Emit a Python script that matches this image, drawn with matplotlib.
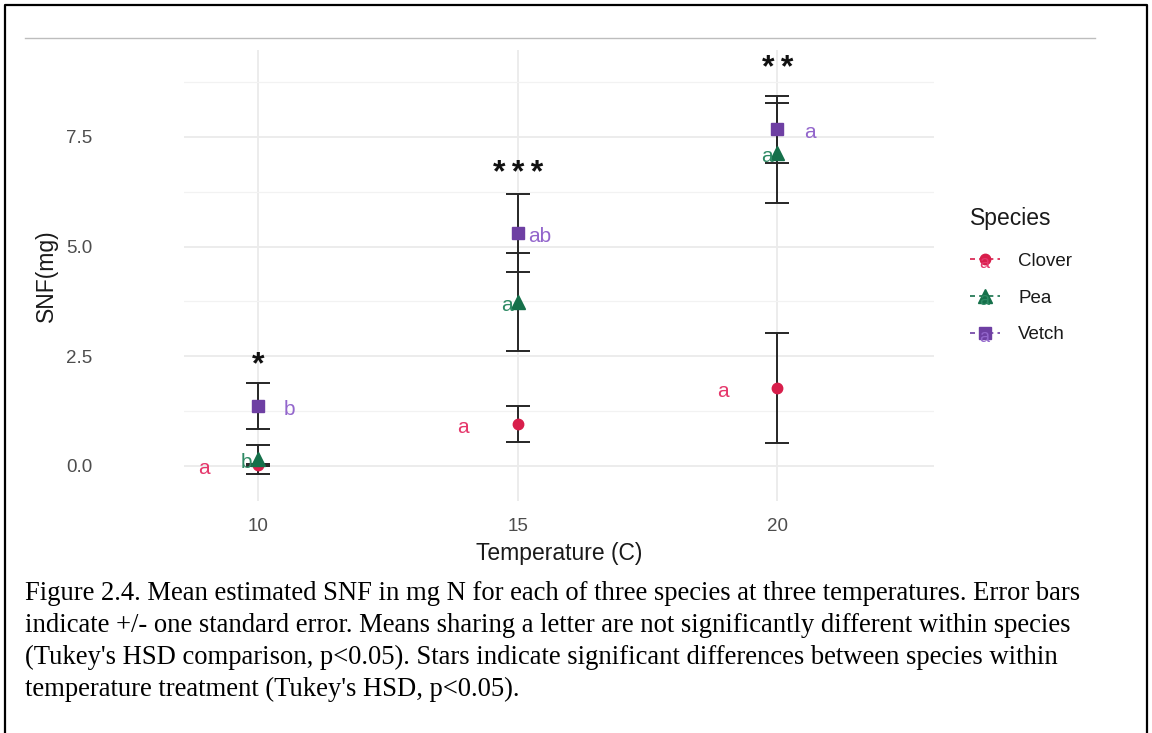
import matplotlib
matplotlib.use("Agg")
import matplotlib.pyplot as plt
from matplotlib.lines import Line2D
from matplotlib.text import Text
from matplotlib.legend_handler import HandlerBase

temps = [10, 15, 20]
species = ["Clover", "Pea", "Vetch"]
means = {
    "Clover": [0.02, 0.95, 1.78],
    "Pea": [0.15, 3.74, 7.13],
    "Vetch": [1.37, 5.31, 7.67],
}
ses = {
    "Clover": [0.03, 0.41, 1.25],
    "Pea": [0.33, 1.12, 1.14],
    "Vetch": [0.52, 0.89, 0.76],
}
letters = {
    "Clover": ["a", "a", "a"],
    "Pea": ["b", "a", "a"],
    "Vetch": ["b", "ab", "a"],
}
# horizontal offset of each letter from its point
letter_dx = {
    "Clover": [-1.05, -1.05, -1.05],
    "Pea": [-0.22, -0.2, -0.2],
    "Vetch": [0.6, 0.42, 0.63],
}
stars = ["*", "***", "**"]
star_y = [2.3, 6.65, 9.05]

colors = {"Clover": "#D81E4B", "Pea": "#15704A", "Vetch": "#6E3FA3"}
text_colors = {"Clover": "#E5376B", "Pea": "#2E8A64", "Vetch": "#9366CC"}
markers = {"Clover": ("o", 7.5), "Pea": ("^", 10), "Vetch": ("s", 8.5)}

caption = ("Figure 2.4. Mean estimated SNF in mg N for each of three species at three temperatures. Error bars\n"
           "indicate +/- one standard error. Means sharing a letter are not significantly different within species\n"
           "(Tukey's HSD comparison, p<0.05). Stars indicate significant differences between species within\n"
           "temperature treatment (Tukey's HSD, p<0.05).")

plt.rcParams["font.family"] = ["Liberation Sans", "DejaVu Sans"]

fig = plt.figure(figsize=(11.52, 7.33), dpi=100)
ax = fig.add_axes([0.1597, 0.3165, 0.6510, 0.6153])

for sp in species:
    ax.errorbar(temps, means[sp], yerr=ses[sp], fmt="none", ecolor="#262626",
                elinewidth=1.4, capsize=8.5, capthick=1.4, zorder=3)
for sp in species:
    m, ms = markers[sp]
    ax.plot(temps, means[sp], ls="none", marker=m, ms=ms, color=colors[sp], zorder=4)
    for t, y, lab, dx in zip(temps, means[sp], letters[sp], letter_dx[sp]):
        ax.text(t + dx, y - 0.08, lab, color=text_colors[sp], fontsize=15,
                ha="center", va="center", zorder=5)

for t, s, y in zip(temps, stars, star_y):
    ax.text(t, y, "\u2009".join(s), fontsize=23, fontweight="bold",
            ha="center", va="center", color="#111111")

ax.set_xlim(8.57, 23.02)
ax.set_ylim(-0.80, 9.48)
ax.set_xticks(temps)
ax.set_yticks([0, 2.5, 5.0, 7.5])
ax.set_yticklabels(["0.0", "2.5", "5.0", "7.5"])
ax.set_yticks([1.25, 3.75, 6.25, 8.75], minor=True)
ax.grid(True, which="major", color="#EBEBEB", lw=1.3)
ax.grid(True, which="minor", axis="y", color="#F2F2F2", lw=0.9)
ax.set_axisbelow(True)
for s in ax.spines.values():
    s.set_visible(False)
ax.tick_params(which="both", length=0, labelsize=13.5, labelcolor="#4D4D4D")
ax.tick_params(axis="x", pad=12)
ax.tick_params(axis="y", pad=66)
ax.set_xlabel("Temperature (C)", fontsize=16.5, color="#1A1A1A", labelpad=5)
ax.set_ylabel("SNF(mg)", fontsize=16.5, color="#1A1A1A", labelpad=6)


class KeyHandler(HandlerBase):
    def create_artists(self, legend, orig_handle, xdescent, ydescent, width, height, fontsize, trans):
        sp = orig_handle.get_label()
        y = height / 2 - ydescent
        x0, x1 = -xdescent, width - xdescent
        line = Line2D([x0, x1], [y, y], ls=(0, (3, 2.5)), lw=1.2, color=colors[sp])
        m, ms = markers[sp]
        mk = Line2D([(x0 + x1) / 2], [y], ls="none", marker=m, ms=ms, color=colors[sp])
        txt = Text((x0 + x1) / 2, y - 3, "a", color=text_colors[sp], fontsize=13,
                   ha="center", va="center")
        for a in (line, mk, txt):
            a.set_transform(trans)
        return [line, mk, txt]


handles = [Line2D([], [], label=sp) for sp in species]
leg = fig.legend(handles=handles, labels=species, loc="upper left",
                 bbox_to_anchor=(0.827, 0.740), frameon=False, fontsize=13.5,
                 title="Species", title_fontsize=16.5, alignment="left",
                 handler_map={Line2D: KeyHandler()}, handlelength=1.6,
                 handletextpad=1.0, labelspacing=1.05)
leg.get_title().set_color("#1A1A1A")
for t in leg.get_texts():
    t.set_color("#1A1A1A")
leg._legend_box.sep = 16

fig.text(25 / 1152, 1 - 581 / 733, caption, family=["Liberation Serif", "DejaVu Serif"],
         fontsize=19.2, va="top", ha="left", linespacing=1.36)

# page frame and rule
fig.add_artist(Line2D([5 / 1152, 5 / 1152, 1147 / 1152, 1147 / 1152], [0, 1 - 5 / 733, 1 - 5 / 733, 0],
                      transform=fig.transFigure, color="black", lw=1.6))
fig.add_artist(Line2D([25 / 1152, 1095 / 1152], [1 - 38 / 733, 1 - 38 / 733],
                      transform=fig.transFigure, color="#BDBDBD", lw=1.0))

fig.savefig("out.png", dpi=100)
